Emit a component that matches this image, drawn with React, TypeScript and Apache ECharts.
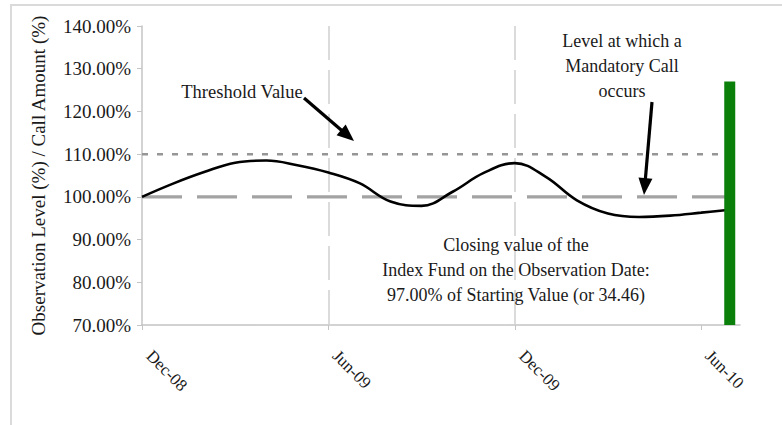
import React, { useEffect, useRef } from 'react';
import * as echarts from 'echarts';

// Months after Dec-08 (0 = Dec-08, 6 = Jun-09, ...)
const monthIndex = [0, 1, 2, 3, 4, 5, 6, 7, 8, 9, 10, 11, 12, 13, 14, 15, 16, 17, 18, 18.92];
const observationLevel = [100.0, 103.1, 105.8, 108.0, 108.5, 107.4, 105.7, 103.2, 98.9, 97.9, 101.2, 105.6, 107.9, 104.7, 99.2, 96.1, 95.3, 95.6, 96.3, 97.0];
const tickMonths = [0, 6, 12, 18];
const tickLabels = ['Dec-08', 'Jun-09', 'Dec-09', 'Jun-10'];
const thresholdValue = 110;
const mandatoryCallLevel = 100;
const callMonth = 18.92;
const callAmount = 127;
const axisMaxMonth = 19.25;

const FONT = '"Liberation Serif", "Times New Roman", serif';
const TXT = '#1a1a1a';

function arrow(x1: number, y1: number, tx: number, ty: number) {
  const dx = tx - x1;
  const dy = ty - y1;
  const len = Math.sqrt(dx * dx + dy * dy);
  const ux = dx / len;
  const uy = dy / len;
  const hl = 17;
  const hw = 7;
  const bx = tx - ux * hl;
  const by = ty - uy * hl;
  const px = -uy * hw;
  const py = ux * hw;
  return [
    {
      type: 'line',
      shape: { x1, y1, x2: bx + ux * 2, y2: by + uy * 2 },
      style: { stroke: '#000', lineWidth: 3.2 },
      z: 100,
    },
    {
      type: 'polygon',
      shape: { points: [[tx, ty], [bx + px, by + py], [bx - px, by - py]] },
      style: { fill: '#000' },
      z: 100,
    },
  ];
}

export default function App() {
  const ref = useRef<HTMLDivElement>(null);
  useEffect(() => {
    if (!ref.current) return;
    const chart = echarts.init(ref.current, null, { renderer: 'svg' });
    const lineData = monthIndex.map((m, i) => [m, observationLevel[i]]);
    chart.setOption({
      animation: false,
      backgroundColor: '#fff',
      grid: { left: 142, right: 42, top: 26, bottom: 100, containLabel: false },
      xAxis: {
        type: 'value',
        min: 0,
        max: axisMaxMonth,
        interval: 6,
        axisLine: { show: true, onZero: false, lineStyle: { color: '#c4c4c4', width: 1.5 } },
        axisTick: { show: true, customValues: tickMonths, length: 5, lineStyle: { color: '#c4c4c4' } },
        axisLabel: {
          customValues: tickMonths,
          rotate: -45,
          margin: 21,
          padding: [0, 0, 0, 10],
          fontFamily: FONT,
          fontSize: 17,
          color: TXT,
          formatter: (v: number) => {
            const i = tickMonths.indexOf(Math.round(v));
            return i >= 0 && Math.abs(v - tickMonths[i]) < 0.01 ? tickLabels[i] : '';
          },
        },
        splitLine: {
          show: true,
          showMinLine: false,
          showMaxLine: false,
          lineStyle: { color: '#d0d0d0', width: 1.5, type: [34, 10] },
        },
      },
      yAxis: {
        type: 'value',
        min: 70,
        max: 140,
        interval: 10,
        name: 'Observation Level (%) / Call Amount (%)',
        nameLocation: 'middle',
        nameGap: 94,
        nameTextStyle: { fontFamily: FONT, fontSize: 19, color: TXT },
        axisLine: { show: true, lineStyle: { color: '#c4c4c4', width: 1.5 } },
        axisTick: { show: true, length: 5, lineStyle: { color: '#c4c4c4' } },
        axisLabel: {
          margin: 11,
          fontFamily: FONT,
          fontSize: 19,
          color: TXT,
          formatter: (v: number) => v.toFixed(2) + '%',
        },
        splitLine: { show: false },
      },
      series: [
        {
          type: 'line',
          name: 'Threshold',
          data: [[0, thresholdValue], [callMonth, thresholdValue]],
          showSymbol: false,
          symbol: 'none',
          lineStyle: { color: '#969696', width: 2.5, type: [6, 9] },
          z: 2,
        },
        {
          type: 'line',
          name: 'Mandatory Call',
          data: [[0, mandatoryCallLevel], [callMonth, mandatoryCallLevel]],
          showSymbol: false,
          symbol: 'none',
          lineStyle: { color: '#a3a3a3', width: 3.2, type: [40, 15] },
          z: 2,
        },
        {
          type: 'line',
          name: 'Observation Level',
          data: lineData,
          smooth: 0.4,
          showSymbol: false,
          symbol: 'none',
          lineStyle: { color: '#000', width: 2.6 },
          z: 3,
        },
        {
          type: 'bar',
          name: 'Call Amount',
          data: [[callMonth, callAmount]],
          barWidth: 11,
          itemStyle: { color: '#0a800a' },
          z: 4,
        },
      ],
      graphic: [
        {
          type: 'rect',
          shape: { x: 11, y: 5, width: 900, height: 500 },
          style: { fill: 'none', stroke: '#dadada', lineWidth: 2 },
          silent: true,
          z: -1,
        },
        {
          type: 'text',
          x: 242,
          y: 92,
          style: {
            text: 'Threshold Value',
            fontFamily: FONT,
            fontSize: 18.5,
            fill: TXT,
            align: 'center',
            verticalAlign: 'middle',
          },
          z: 100,
        },
        {
          type: 'text',
          x: 622,
          y: 66,
          style: {
            text: 'Level at which a\nMandatory Call\noccurs',
            fontFamily: FONT,
            fontSize: 18,
            lineHeight: 25,
            fill: TXT,
            align: 'center',
            verticalAlign: 'middle',
          },
          z: 100,
        },
        {
          type: 'text',
          x: 516,
          y: 270,
          style: {
            text: 'Closing value of the\nIndex Fund on the Observation Date:\n97.00% of Starting Value (or 34.46)',
            fontFamily: FONT,
            fontSize: 18,
            lineHeight: 25,
            fill: TXT,
            align: 'center',
            verticalAlign: 'middle',
          },
          z: 100,
        },
        ...arrow(304, 98, 354, 141),
        ...arrow(652, 102, 644, 195),
      ],
    });
    return () => chart.dispose();
  }, []);
  return <div ref={ref} style={{ position: 'absolute', left: 0, top: 0, width: 782, height: 425 }} />;
}
